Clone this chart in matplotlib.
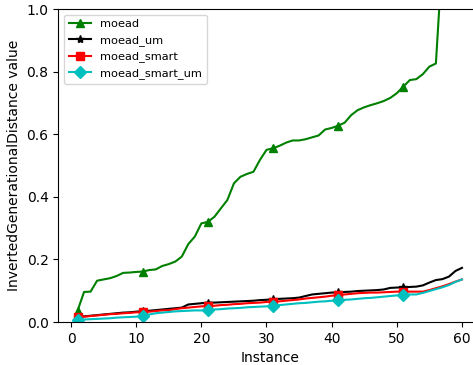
import matplotlib
matplotlib.use("Agg")
import matplotlib.pyplot as plt

instances = list(range(1, 61))

moead = [0.036, 0.096, 0.097, 0.132, 0.136, 0.140, 0.147, 0.157, 0.158, 0.160,
         0.161, 0.166, 0.168, 0.179, 0.185, 0.193, 0.209, 0.249, 0.273, 0.315,
         0.320, 0.336, 0.363, 0.390, 0.443, 0.464, 0.473, 0.480, 0.518, 0.550,
         0.555, 0.563, 0.573, 0.580, 0.580, 0.584, 0.590, 0.596, 0.615, 0.620,
         0.627, 0.637, 0.661, 0.677, 0.686, 0.693, 0.699, 0.706, 0.716, 0.731,
         0.752, 0.773, 0.776, 0.792, 0.816, 0.826, 1.17, 1.35, 1.50, 1.70]

moead_um = [0.017, 0.018, 0.020, 0.022, 0.024, 0.026, 0.028, 0.030, 0.031, 0.033,
            0.035, 0.036, 0.038, 0.040, 0.042, 0.044, 0.046, 0.056, 0.058, 0.060,
            0.062, 0.062, 0.063, 0.064, 0.065, 0.066, 0.067, 0.068, 0.070, 0.071,
            0.073, 0.074, 0.075, 0.076, 0.078, 0.083, 0.088, 0.090, 0.092, 0.094,
            0.095, 0.096, 0.097, 0.099, 0.100, 0.101, 0.102, 0.104, 0.109, 0.110,
            0.111, 0.112, 0.113, 0.117, 0.126, 0.134, 0.137, 0.145, 0.163, 0.173]

moead_smart = [0.015, 0.017, 0.019, 0.021, 0.023, 0.025, 0.026, 0.028, 0.029, 0.031,
               0.031, 0.033, 0.035, 0.037, 0.038, 0.041, 0.044, 0.046, 0.048, 0.050,
               0.051, 0.052, 0.054, 0.055, 0.057, 0.058, 0.060, 0.061, 0.062, 0.064,
               0.065, 0.066, 0.068, 0.070, 0.072, 0.075, 0.077, 0.079, 0.081, 0.084,
               0.086, 0.088, 0.090, 0.092, 0.093, 0.094, 0.094, 0.095, 0.096, 0.097,
               0.097, 0.097, 0.097, 0.097, 0.102, 0.108, 0.114, 0.121, 0.129, 0.136]

moead_smart_um = [0.006, 0.008, 0.009, 0.010, 0.011, 0.012, 0.014, 0.015, 0.016, 0.017,
                  0.019, 0.024, 0.028, 0.030, 0.032, 0.034, 0.035, 0.036, 0.037, 0.037,
                  0.038, 0.040, 0.041, 0.043, 0.044, 0.045, 0.047, 0.048, 0.049, 0.050,
                  0.052, 0.054, 0.056, 0.058, 0.060, 0.061, 0.063, 0.065, 0.066, 0.068,
                  0.069, 0.071, 0.072, 0.074, 0.076, 0.077, 0.079, 0.081, 0.083, 0.085,
                  0.087, 0.088, 0.088, 0.093, 0.099, 0.105, 0.111, 0.118, 0.128, 0.136]

fig = plt.figure(figsize=(4.73, 3.65), dpi=100)
# axes run a little past the right edge of the canvas
ax = fig.add_axes([0.1233, 0.1178, 0.894, 0.8575])

ax.plot(instances, moead, color='g', marker='^', markevery=10, label='moead')
ax.plot(instances, moead_um, color='k', marker='*', markevery=10, label='moead_um')
ax.plot(instances, moead_smart, color='r', marker='s', markevery=10, label='moead_smart')
ax.plot(instances, moead_smart_um, color='c', marker='D', markevery=10, label='moead_smart_um')

ax.set_ylim(0, 1.0)
ax.set_xlabel('Instance')
ax.set_ylabel('InvertedGenerationalDistance value')
ax.legend(loc='upper left', fontsize=8.2)

fig.savefig('out.png', dpi=100)
